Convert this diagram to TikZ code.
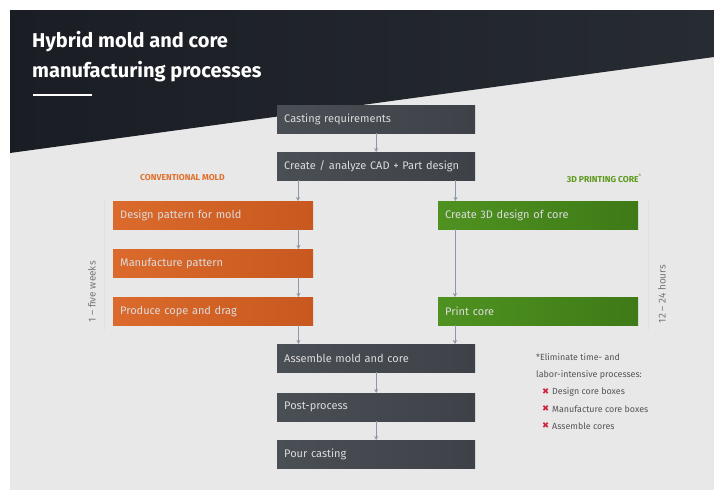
\documentclass[tikz,border=0pt]{standalone}
\usepackage{fontspec}
\setmainfont{Fira Sans}
\newfontfamily\symfont{DejaVu Sans}
\usetikzlibrary{arrows.meta,calc}
\definecolor{bgdark}{HTML}{1A1E24}
\definecolor{bgdarkR}{HTML}{272C32}
\definecolor{bglight}{HTML}{E8E8E8}
\definecolor{boxgray}{HTML}{4A4E55}
\definecolor{boxgrayR}{HTML}{3E4248}
\definecolor{orangeL}{HTML}{DB6A2C}
\definecolor{orangeR}{HTML}{C9581F}
\definecolor{greenL}{HTML}{4F9220}
\definecolor{greenR}{HTML}{3E7A17}
\definecolor{headorange}{HTML}{E0712F}
\definecolor{headgreen}{HTML}{5E9A1E}
\definecolor{arrowcol}{HTML}{8C96A6}
\definecolor{notecol}{HTML}{555555}
\definecolor{xred}{HTML}{D0203A}
\definecolor{boxtext}{HTML}{DCDCDC}
\tikzset{
  procbox/.style={rectangle, anchor=north west, minimum width=198pt, minimum height=28pt,
    text width=184pt, inner xsep=7pt, align=left, font=\fontsize{11}{13}\selectfont,
    text=boxtext},
  graybox/.style={procbox, left color=boxgray, right color=boxgrayR},
  orangebox/.style={procbox, minimum width=200pt, text width=186pt, left color=orangeL, right color=orangeR},
  greenbox/.style={procbox, minimum width=200pt, text width=186pt, left color=greenL, right color=greenR},
  arr/.style={draw=arrowcol, line width=0.8pt, -{Stealth[length=4pt,width=4pt]}},
  notetext/.style={anchor=west, inner sep=0pt, text=notecol, font=\fontsize{8.9}{10}\selectfont},
  marktext/.style={anchor=west, inner sep=0pt, text=xred, font=\symfont\fontsize{8.5}{10}\selectfont},
  sidetext/.style={text=notecol!80, font=\fontsize{10}{12}\selectfont, rotate=90, inner sep=0pt},
  headtext/.style={inner sep=0pt, font=\bfseries\fontsize{8.6}{10}\selectfont}
}
\begin{document}
\begin{tikzpicture}[x=1pt,y=-1pt]
\useasboundingbox (0,0) rectangle (714,490);
\fill[white] (0,0) rectangle (714,490);
\fill[bglight] (10,10) rectangle (714,490);
\shade[left color=bgdark, right color=bgdarkR] (10,10) -- (714,10) -- (714,57) -- (10,153) -- cycle;
% title
\node[anchor=north west, inner sep=0pt, text=white, align=left,
  font=\bfseries\fontsize{20}{30}\selectfont] (title) at (32,31) {Hybrid mold and core\\manufacturing processes};
\draw[white, line width=1.6pt] (33,95) coordinate (ul1) -- (92,95) coordinate (ul2);
% main column
\node[graybox] (cast) at (277,105) {Casting requirements};
\node[graybox] (cad) at (277,152) {Create / analyze CAD + Part design};
% headings
\node[headtext, text=headorange, anchor=west] (hconv) at (140,178) {CONVENTIONAL MOLD};
\node[headtext, text=headgreen, anchor=east] (hprint) at (642,178) {3D PRINTING CORE\textsuperscript{\normalfont *}};
% orange column
\node[orangebox] (o1) at (113,201) {Design pattern for mold};
\node[orangebox] (o2) at (113,249) {Manufacture pattern};
\node[orangebox] (o3) at (113,297) {Produce cope and drag};
% green column
\node[greenbox] (g1) at (438,201) {Create 3D design of core};
\node[greenbox] (g2) at (438,297) {Print core};
% bottom column
\node[graybox] (asm) at (277,344) {Assemble mold and core};
\node[graybox] (post) at (277,393) {Post-process};
\node[graybox] (pour) at (277,440) {Pour casting};
% side time brackets
\draw[draw=black!12, line width=0.6pt] (104,200) coordinate (lb1) -- (104,330) coordinate (lb2);
\draw[draw=black!12, line width=0.6pt] (648,200) coordinate (rb1) -- (648,330) coordinate (rb2);
\node[sidetext] (tleft) at (92,292) {1 – five weeks};
\node[sidetext] (tright) at (662,294) {12 – 24 hours};
% arrows
\draw[arr] (cast.south) coordinate (a1) -- (cad.north);
\draw[arr] ([xshift=21pt]cad.south west) coordinate (a2) -- (a2 |- o1.north);
\draw[arr] ([xshift=-20pt]cad.south east) coordinate (a3) -- (a3 |- g1.north);
\draw[arr] ([xshift=-15pt]o1.south east) coordinate (a4) -- (a4 |- o2.north);
\draw[arr] ([xshift=-15pt]o2.south east) coordinate (a5) -- (a5 |- o3.north);
\draw[arr] ([xshift=17pt]g1.south west) coordinate (a6) -- (a6 |- g2.north);
\draw[arr] ([xshift=-15pt]o3.south east) coordinate (a7) -- (a7 |- asm.north);
\draw[arr] ([xshift=17pt]g2.south west) coordinate (a8) -- (a8 |- asm.north);
\draw[arr] (asm.south) coordinate (a9) -- (post.north);
\draw[arr] (post.south) coordinate (a10) -- (pour.north);
% note
\node[notetext] (n1) at (536,357) {*Eliminate time- and};
\node[notetext] (n2) at (536,375) {labor-intensive processes:};
\node[marktext] (x1) at (542,392) {✖};
\node[notetext] (n3) at (552,392) {Design core boxes};
\node[marktext] (x2) at (542,409) {✖};
\node[notetext] (n4) at (552,409) {Manufacture core boxes};
\node[marktext] (x3) at (542,426) {✖};
\node[notetext] (n5) at (552,426) {Assemble cores};
\end{tikzpicture}
\end{document}
